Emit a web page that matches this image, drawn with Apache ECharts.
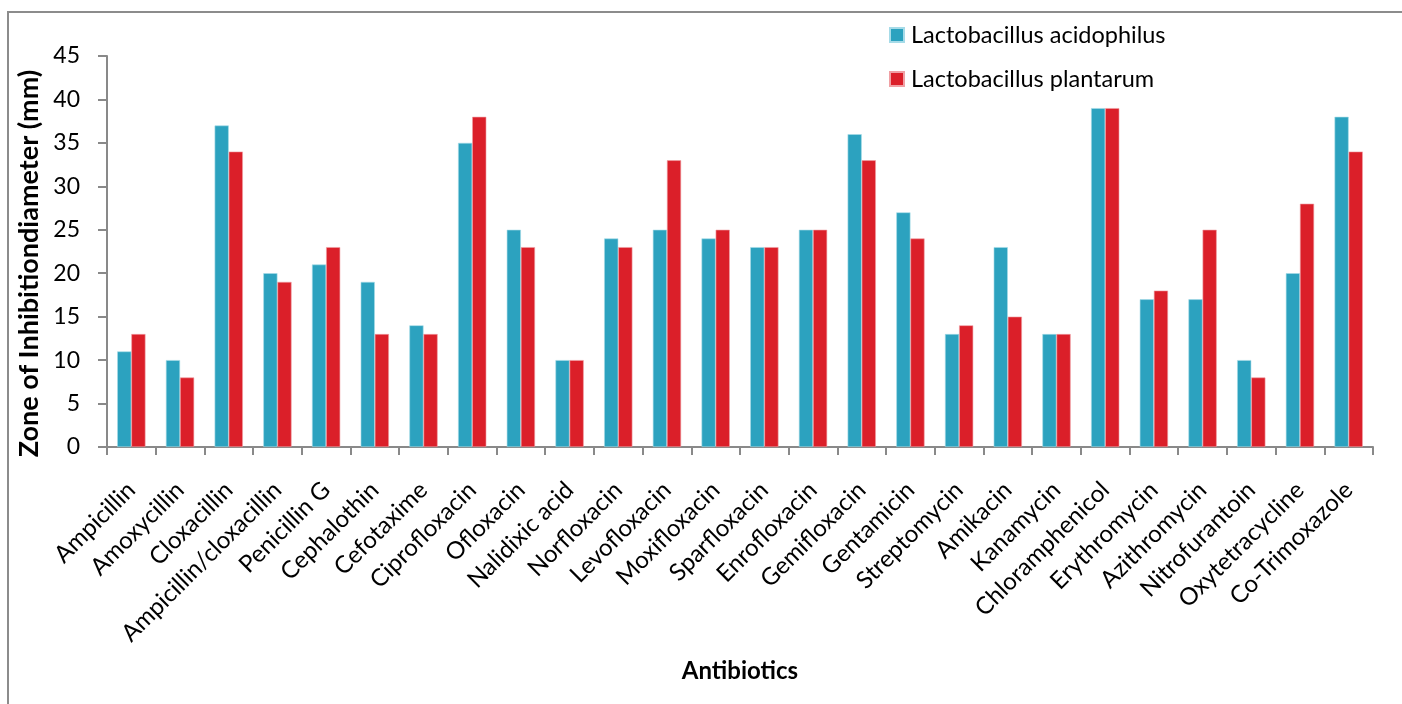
<!DOCTYPE html>
<html><head><meta charset="utf-8">
<script src="https://cdn.jsdelivr.net/npm/echarts@6/dist/echarts.min.js"></script>
<style>html,body{margin:0;padding:0;background:#fff}#c{width:1402px;height:704px}</style>
</head><body><div id="c"></div>
<script>
const categories = ["Ampicillin","Amoxycillin","Cloxacillin","Ampicillin/cloxacillin","Penicillin G","Cephalothin","Cefotaxime","Ciprofloxacin","Ofloxacin","Nalidixic acid","Norfloxacin","Levofloxacin","Moxifloxacin","Sparfloxacin","Enrofloxacin","Gemifloxacin","Gentamicin","Streptomycin","Amikacin","Kanamycin","Chloramphenicol","Erythromycin","Azithromycin","Nitrofurantoin","Oxytetracycline","Co-Trimoxazole"];
const acidophilus = [11,10,37,20,21,19,14,35,25,10,24,25,24,23,25,36,27,13,23,13,39,17,17,10,20,38];
const plantarum = [13,8,34,19,23,13,13,38,23,10,23,33,25,23,25,33,24,14,15,13,39,18,25,8,28,34];
const seriesNames = ["Lactobacillus acidophilus","Lactobacillus plantarum"];
const FONT = "Lato, 'Open Sans', sans-serif";
const chart = echarts.init(document.getElementById('c'), null, {renderer:'canvas'});
chart.setOption({
  animation:false,
  backgroundColor:'#fff',
  graphic:[{type:'rect',shape:{x:8,y:12,width:1420,height:720},style:{fill:'none',stroke:'#8c8c8c',lineWidth:2},z:-1}],
  legend:{orient:'vertical',left:884,top:17,itemWidth:14,itemHeight:14,itemGap:18,icon:'rect',
    textStyle:{fontFamily:FONT,fontSize:23.5,lineHeight:26,color:'#000',padding:[0,0,0,2]},data:seriesNames},
  grid:{left:107,top:56,right:29,bottom:257,containLabel:false},
  xAxis:{type:'category',data:categories,
    axisLine:{lineStyle:{color:'#898989',width:2}},
    axisTick:{show:true,alignWithLabel:false,length:8,lineStyle:{color:'#898989',width:2}},
    axisLabel:{rotate:45,fontFamily:FONT,fontSize:24,color:'#000',interval:0,margin:39},
    name:'Antibiotics',nameLocation:'middle',nameGap:212,
    nameTextStyle:{fontFamily:FONT,fontSize:24,fontWeight:'bold',color:'#000'}},
  yAxis:{type:'value',min:0,max:45,interval:5,
    axisLine:{show:true,lineStyle:{color:'#898989',width:2}},
    axisTick:{show:true,length:9,lineStyle:{color:'#898989',width:2}},
    splitLine:{show:false},
    axisLabel:{fontFamily:FONT,fontSize:23,color:'#000',margin:27},
    name:'Zone of Inhibitiondiameter (mm)',nameLocation:'middle',nameGap:63,
    nameTextStyle:{fontFamily:FONT,fontSize:27,fontWeight:'bold',color:'#000',padding:[0,24,0,0]}},
  series:[
    {name:seriesNames[0],type:'bar',data:acidophilus,barGap:'0%',barCategoryGap:'42%',
     itemStyle:{color:'#2ca2bf',borderColor:'#a6dbe8',borderWidth:0.6}},
    {name:seriesNames[1],type:'bar',data:plantarum,barGap:'0%',barCategoryGap:'42%',
     itemStyle:{color:'#db1f29',borderColor:'#f0a0a4',borderWidth:0.6}}
  ]
});
</script></body></html>
